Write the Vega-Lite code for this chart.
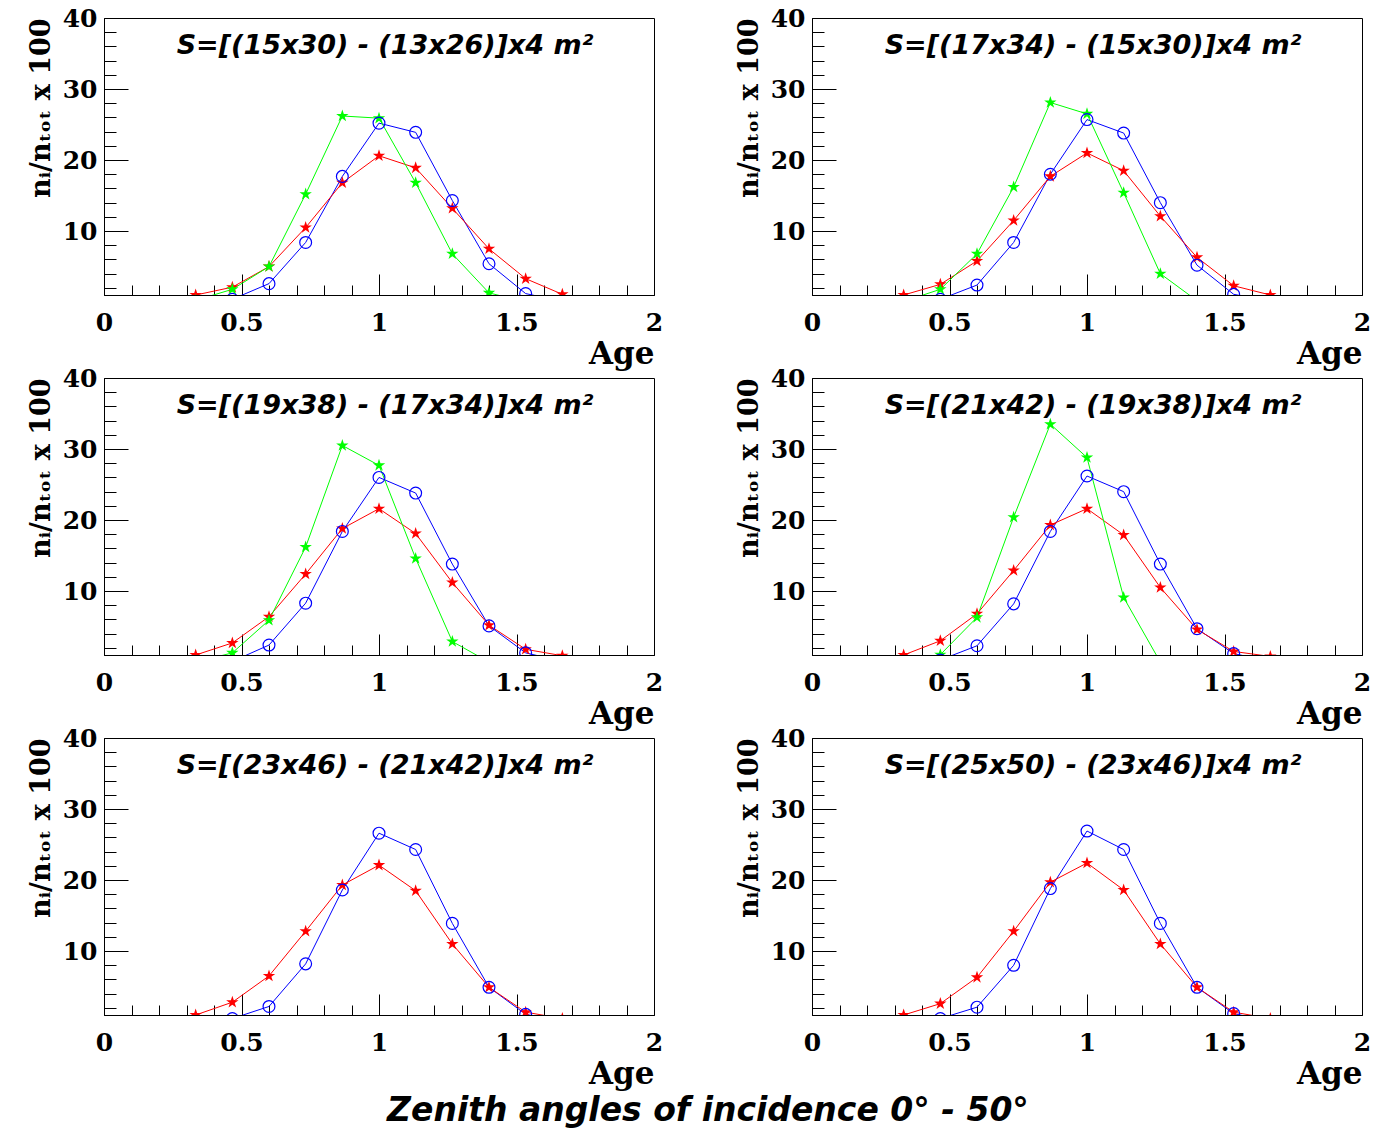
{
  "$schema": "https://vega.github.io/schema/vega-lite/v6.json",
  "autosize": {"type": "pad"},
  "padding": {"left": 26, "top": 5, "right": 5, "bottom": 5},
  "background": "white",
  "config": {"view": {"stroke": "black", "strokeWidth": 1}},
  "title": {"text": "Zenith angles of incidence 0° - 50°", "orient": "bottom", "anchor": "middle", "frame": "bounds", "dx": 9, "offset": 5, "font": "DejaVu Sans", "fontSize": 33, "fontWeight": "bold", "fontStyle": "italic", "color": "black"},
  "data": {"values": [
    {"r":1,"c":1,"t":"S=[(15x30) - (13x26)]x4 m²"},
    {"r":1,"c":2,"t":"S=[(17x34) - (15x30)]x4 m²"},
    {"r":2,"c":1,"t":"S=[(19x38) - (17x34)]x4 m²"},
    {"r":2,"c":2,"t":"S=[(21x42) - (19x38)]x4 m²"},
    {"r":3,"c":1,"t":"S=[(23x46) - (21x42)]x4 m²"},
    {"r":3,"c":2,"t":"S=[(25x50) - (23x46)]x4 m²"},

    {"r":1,"c":1,"s":"blue","x":0.4667,"y":0.4},
    {"r":1,"c":1,"s":"blue","x":0.6,"y":2.6},
    {"r":1,"c":1,"s":"blue","x":0.7333,"y":8.4},
    {"r":1,"c":1,"s":"blue","x":0.8667,"y":17.7},
    {"r":1,"c":1,"s":"blue","x":1.0,"y":25.2},
    {"r":1,"c":1,"s":"blue","x":1.1333,"y":23.9},
    {"r":1,"c":1,"s":"blue","x":1.2667,"y":14.3},
    {"r":1,"c":1,"s":"blue","x":1.4,"y":5.4},
    {"r":1,"c":1,"s":"blue","x":1.5333,"y":1.2},
    {"r":1,"c":1,"s":"blue","x":1.6667,"y":0.1},
    {"r":1,"c":1,"s":"red","x":0.3333,"y":1.0},
    {"r":1,"c":1,"s":"red","x":0.4667,"y":2.1},
    {"r":1,"c":1,"s":"red","x":0.6,"y":5.0},
    {"r":1,"c":1,"s":"red","x":0.7333,"y":10.5},
    {"r":1,"c":1,"s":"red","x":0.8667,"y":16.8},
    {"r":1,"c":1,"s":"red","x":1.0,"y":20.6},
    {"r":1,"c":1,"s":"red","x":1.1333,"y":18.9},
    {"r":1,"c":1,"s":"red","x":1.2667,"y":13.2},
    {"r":1,"c":1,"s":"red","x":1.4,"y":7.5},
    {"r":1,"c":1,"s":"red","x":1.5333,"y":3.3},
    {"r":1,"c":1,"s":"red","x":1.6667,"y":1.1},
    {"r":1,"c":1,"s":"green","x":0.3333,"y":0.25},
    {"r":1,"c":1,"s":"green","x":0.4667,"y":1.8},
    {"r":1,"c":1,"s":"green","x":0.6,"y":5.0},
    {"r":1,"c":1,"s":"green","x":0.7333,"y":15.2},
    {"r":1,"c":1,"s":"green","x":0.8667,"y":26.2},
    {"r":1,"c":1,"s":"green","x":1.0,"y":25.9},
    {"r":1,"c":1,"s":"green","x":1.1333,"y":16.8},
    {"r":1,"c":1,"s":"green","x":1.2667,"y":6.8},
    {"r":1,"c":1,"s":"green","x":1.4,"y":1.3},
    {"r":1,"c":1,"s":"green","x":1.5333,"y":0.0},

    {"r":1,"c":2,"s":"blue","x":0.4667,"y":0.4},
    {"r":1,"c":2,"s":"blue","x":0.6,"y":2.4},
    {"r":1,"c":2,"s":"blue","x":0.7333,"y":8.4},
    {"r":1,"c":2,"s":"blue","x":0.8667,"y":18.0},
    {"r":1,"c":2,"s":"blue","x":1.0,"y":25.7},
    {"r":1,"c":2,"s":"blue","x":1.1333,"y":23.8},
    {"r":1,"c":2,"s":"blue","x":1.2667,"y":14.0},
    {"r":1,"c":2,"s":"blue","x":1.4,"y":5.2},
    {"r":1,"c":2,"s":"blue","x":1.5333,"y":1.1},
    {"r":1,"c":2,"s":"blue","x":1.6667,"y":0.1},
    {"r":1,"c":2,"s":"red","x":0.3333,"y":1.0},
    {"r":1,"c":2,"s":"red","x":0.4667,"y":2.5},
    {"r":1,"c":2,"s":"red","x":0.6,"y":5.8},
    {"r":1,"c":2,"s":"red","x":0.7333,"y":11.5},
    {"r":1,"c":2,"s":"red","x":0.8667,"y":17.7},
    {"r":1,"c":2,"s":"red","x":1.0,"y":21.0},
    {"r":1,"c":2,"s":"red","x":1.1333,"y":18.5},
    {"r":1,"c":2,"s":"red","x":1.2667,"y":12.1},
    {"r":1,"c":2,"s":"red","x":1.4,"y":6.3},
    {"r":1,"c":2,"s":"red","x":1.5333,"y":2.3},
    {"r":1,"c":2,"s":"red","x":1.6667,"y":1.0},
    {"r":1,"c":2,"s":"green","x":0.3333,"y":0.1},
    {"r":1,"c":2,"s":"green","x":0.4667,"y":1.8},
    {"r":1,"c":2,"s":"green","x":0.6,"y":6.8},
    {"r":1,"c":2,"s":"green","x":0.7333,"y":16.2},
    {"r":1,"c":2,"s":"green","x":0.8667,"y":28.1},
    {"r":1,"c":2,"s":"green","x":1.0,"y":26.5},
    {"r":1,"c":2,"s":"green","x":1.1333,"y":15.4},
    {"r":1,"c":2,"s":"green","x":1.2667,"y":4.0},
    {"r":1,"c":2,"s":"green","x":1.4,"y":0.2},

    {"r":2,"c":1,"s":"blue","x":0.4667,"y":0.1},
    {"r":2,"c":1,"s":"blue","x":0.6,"y":2.4},
    {"r":2,"c":1,"s":"blue","x":0.7333,"y":8.3},
    {"r":2,"c":1,"s":"blue","x":0.8667,"y":18.4},
    {"r":2,"c":1,"s":"blue","x":1.0,"y":26.0},
    {"r":2,"c":1,"s":"blue","x":1.1333,"y":23.8},
    {"r":2,"c":1,"s":"blue","x":1.2667,"y":13.8},
    {"r":2,"c":1,"s":"blue","x":1.4,"y":5.1},
    {"r":2,"c":1,"s":"blue","x":1.5333,"y":1.3},
    {"r":2,"c":1,"s":"blue","x":1.6667,"y":0.1},
    {"r":2,"c":1,"s":"red","x":0.3333,"y":1.0},
    {"r":2,"c":1,"s":"red","x":0.4667,"y":2.7},
    {"r":2,"c":1,"s":"red","x":0.6,"y":6.4},
    {"r":2,"c":1,"s":"red","x":0.7333,"y":12.4},
    {"r":2,"c":1,"s":"red","x":0.8667,"y":18.8},
    {"r":2,"c":1,"s":"red","x":1.0,"y":21.6},
    {"r":2,"c":1,"s":"red","x":1.1333,"y":18.1},
    {"r":2,"c":1,"s":"red","x":1.2667,"y":11.2},
    {"r":2,"c":1,"s":"red","x":1.4,"y":5.2},
    {"r":2,"c":1,"s":"red","x":1.5333,"y":1.8},
    {"r":2,"c":1,"s":"red","x":1.6667,"y":0.9},
    {"r":2,"c":1,"s":"green","x":0.3333,"y":0.0},
    {"r":2,"c":1,"s":"green","x":0.4667,"y":1.3},
    {"r":2,"c":1,"s":"green","x":0.6,"y":5.9},
    {"r":2,"c":1,"s":"green","x":0.7333,"y":16.2},
    {"r":2,"c":1,"s":"green","x":0.8667,"y":30.5},
    {"r":2,"c":1,"s":"green","x":1.0,"y":27.7},
    {"r":2,"c":1,"s":"green","x":1.1333,"y":14.6},
    {"r":2,"c":1,"s":"green","x":1.2667,"y":2.9},
    {"r":2,"c":1,"s":"green","x":1.4,"y":0.0},

    {"r":2,"c":2,"s":"blue","x":0.4667,"y":0.3},
    {"r":2,"c":2,"s":"blue","x":0.6,"y":2.3},
    {"r":2,"c":2,"s":"blue","x":0.7333,"y":8.2},
    {"r":2,"c":2,"s":"blue","x":0.8667,"y":18.4},
    {"r":2,"c":2,"s":"blue","x":1.0,"y":26.2},
    {"r":2,"c":2,"s":"blue","x":1.1333,"y":24.0},
    {"r":2,"c":2,"s":"blue","x":1.2667,"y":13.8},
    {"r":2,"c":2,"s":"blue","x":1.4,"y":4.7},
    {"r":2,"c":2,"s":"blue","x":1.5333,"y":1.2},
    {"r":2,"c":2,"s":"blue","x":1.6667,"y":0.1},
    {"r":2,"c":2,"s":"red","x":0.3333,"y":1.0},
    {"r":2,"c":2,"s":"red","x":0.4667,"y":3.0},
    {"r":2,"c":2,"s":"red","x":0.6,"y":6.8},
    {"r":2,"c":2,"s":"red","x":0.7333,"y":12.9},
    {"r":2,"c":2,"s":"red","x":0.8667,"y":19.3},
    {"r":2,"c":2,"s":"red","x":1.0,"y":21.6},
    {"r":2,"c":2,"s":"red","x":1.1333,"y":17.9},
    {"r":2,"c":2,"s":"red","x":1.2667,"y":10.5},
    {"r":2,"c":2,"s":"red","x":1.4,"y":4.6},
    {"r":2,"c":2,"s":"red","x":1.5333,"y":1.5},
    {"r":2,"c":2,"s":"red","x":1.6667,"y":0.8},
    {"r":2,"c":2,"s":"green","x":0.3333,"y":0.0},
    {"r":2,"c":2,"s":"green","x":0.4667,"y":1.05},
    {"r":2,"c":2,"s":"green","x":0.6,"y":6.3},
    {"r":2,"c":2,"s":"green","x":0.7333,"y":20.4},
    {"r":2,"c":2,"s":"green","x":0.8667,"y":33.5},
    {"r":2,"c":2,"s":"green","x":1.0,"y":28.8},
    {"r":2,"c":2,"s":"green","x":1.1333,"y":9.1},
    {"r":2,"c":2,"s":"green","x":1.2667,"y":0.0},

    {"r":3,"c":1,"s":"blue","x":0.4667,"y":0.5},
    {"r":3,"c":1,"s":"blue","x":0.6,"y":2.2},
    {"r":3,"c":1,"s":"blue","x":0.7333,"y":8.2},
    {"r":3,"c":1,"s":"blue","x":0.8667,"y":18.6},
    {"r":3,"c":1,"s":"blue","x":1.0,"y":26.6},
    {"r":3,"c":1,"s":"blue","x":1.1333,"y":24.3},
    {"r":3,"c":1,"s":"blue","x":1.2667,"y":13.9},
    {"r":3,"c":1,"s":"blue","x":1.4,"y":4.9},
    {"r":3,"c":1,"s":"blue","x":1.5333,"y":1.1},
    {"r":3,"c":1,"s":"blue","x":1.6667,"y":0.1},
    {"r":3,"c":1,"s":"red","x":0.3333,"y":1.0},
    {"r":3,"c":1,"s":"red","x":0.4667,"y":2.8},
    {"r":3,"c":1,"s":"red","x":0.6,"y":6.5},
    {"r":3,"c":1,"s":"red","x":0.7333,"y":12.8},
    {"r":3,"c":1,"s":"red","x":0.8667,"y":19.3},
    {"r":3,"c":1,"s":"red","x":1.0,"y":22.1},
    {"r":3,"c":1,"s":"red","x":1.1333,"y":18.5},
    {"r":3,"c":1,"s":"red","x":1.2667,"y":11.0},
    {"r":3,"c":1,"s":"red","x":1.4,"y":4.9},
    {"r":3,"c":1,"s":"red","x":1.5333,"y":1.4},
    {"r":3,"c":1,"s":"red","x":1.6667,"y":0.5},

    {"r":3,"c":2,"s":"blue","x":0.4667,"y":0.5},
    {"r":3,"c":2,"s":"blue","x":0.6,"y":2.1},
    {"r":3,"c":2,"s":"blue","x":0.7333,"y":8.0},
    {"r":3,"c":2,"s":"blue","x":0.8667,"y":18.8},
    {"r":3,"c":2,"s":"blue","x":1.0,"y":26.9},
    {"r":3,"c":2,"s":"blue","x":1.1333,"y":24.3},
    {"r":3,"c":2,"s":"blue","x":1.2667,"y":13.9},
    {"r":3,"c":2,"s":"blue","x":1.4,"y":4.9},
    {"r":3,"c":2,"s":"blue","x":1.5333,"y":1.2},
    {"r":3,"c":2,"s":"blue","x":1.6667,"y":0.1},
    {"r":3,"c":2,"s":"red","x":0.3333,"y":1.0},
    {"r":3,"c":2,"s":"red","x":0.4667,"y":2.6},
    {"r":3,"c":2,"s":"red","x":0.6,"y":6.3},
    {"r":3,"c":2,"s":"red","x":0.7333,"y":12.8},
    {"r":3,"c":2,"s":"red","x":0.8667,"y":19.7},
    {"r":3,"c":2,"s":"red","x":1.0,"y":22.4},
    {"r":3,"c":2,"s":"red","x":1.1333,"y":18.6},
    {"r":3,"c":2,"s":"red","x":1.2667,"y":11.0},
    {"r":3,"c":2,"s":"red","x":1.4,"y":4.9},
    {"r":3,"c":2,"s":"red","x":1.5333,"y":1.4},
    {"r":3,"c":2,"s":"red","x":1.6667,"y":0.5}
  ]},
  "facet": {
    "row": {"field": "r", "type": "ordinal", "header": null},
    "column": {"field": "c", "type": "ordinal", "header": null}
  },
  "spacing": {"row": 83, "column": 158},
  "bounds": "flush",
  "resolve": {"axis": {"x": "independent", "y": "independent"}},
  "spec": {
    "width": 550,
    "height": 277,
    "resolve": {"axis": {"x": "independent", "y": "independent"}},
    "layer": [
      {
        "transform": [{"filter": "isValid(datum.s)"}],
        "mark": {"type": "line", "clip": true, "strokeWidth": 1},
        "encoding": {
          "x": {"field": "x", "type": "quantitative",
            "scale": {"domain": [0, 2], "nice": false, "zero": false},
            "axis": {"orient": "bottom", "values": [0, 0.5, 1, 1.5, 2], "format": "~g", "grid": false,
              "tickSize": -21, "tickColor": "black", "tickWidth": 1, "domainColor": "black", "domainWidth": 1,
              "labelFont": "DejaVu Serif", "labelFontWeight": "bold", "labelFontSize": 25, "labelColor": "black",
              "labelPadding": 36, "labelFlush": false, "labelOverlap": false, "labelBaseline": "top",
              "title": "Age", "titleFont": "DejaVu Serif", "titleFontWeight": "bold", "titleFontSize": 31, "titleColor": "black",
              "titleAnchor": "end", "titlePadding": 4}},
          "y": {"field": "y", "type": "quantitative",
            "scale": {"domain": [1, 40], "nice": false, "zero": false},
            "axis": {"orient": "left", "values": [10, 20, 30, 40], "grid": false,
              "tickSize": -24, "tickColor": "black", "tickWidth": 1, "domainColor": "black", "domainWidth": 1,
              "labelFont": "DejaVu Serif", "labelFontWeight": "bold", "labelFontSize": 25, "labelColor": "black",
              "labelPadding": 31, "labelOverlap": false, "labelFlush": false,
              "title": "nᵢ/nₜₒₜ x 100", "titleFont": "DejaVu Serif", "titleFontWeight": "bold", "titleFontSize": 27, "titleColor": "black",
              "titleAnchor": "end", "titlePadding": 7}},
          "color": {"field": "s", "type": "nominal", "scale": {"domain": ["red", "green", "blue"], "range": ["#ff0000", "#00ff00", "#0000ff"]}, "legend": null}
        }
      },
      {
        "transform": [{"filter": "datum.s === 'red' || datum.s === 'green'"}],
        "mark": {"type": "point", "clip": true, "filled": true, "opacity": 1, "size": 170, "strokeWidth": 0,
          "shape": "M0,-1L0.225,-0.309L0.951,-0.309L0.363,0.118L0.588,0.809L0,0.382L-0.588,0.809L-0.363,0.118L-0.951,-0.309L-0.225,-0.309Z"},
        "encoding": {
          "x": {"field": "x", "type": "quantitative",
            "axis": {"orient": "bottom", "values": [0.1, 0.2, 0.3, 0.4, 0.6, 0.7, 0.8, 0.9, 1.1, 1.2, 1.3, 1.4, 1.6, 1.7, 1.8, 1.9],
              "labels": false, "domain": false, "grid": false, "tickSize": -10, "tickColor": "black", "tickWidth": 1, "title": null}},
          "y": {"field": "y", "type": "quantitative",
            "axis": {"orient": "left", "values": [2, 4, 6, 8, 12, 14, 16, 18, 22, 24, 26, 28, 32, 34, 36, 38],
              "labels": false, "domain": false, "grid": false, "tickSize": -12, "tickColor": "black", "tickWidth": 1, "title": null}},
          "color": {"field": "s", "type": "nominal", "legend": null}
        }
      },
      {
        "transform": [{"filter": "datum.s === 'blue'"}],
        "mark": {"type": "point", "clip": true, "filled": false, "opacity": 1, "shape": "circle", "size": 140, "strokeWidth": 1.2},
        "encoding": {
          "x": {"field": "x", "type": "quantitative", "axis": null},
          "y": {"field": "y", "type": "quantitative", "axis": null},
          "color": {"field": "s", "type": "nominal", "legend": null}
        }
      },
      {
        "transform": [{"filter": "isValid(datum.t)"}],
        "mark": {"type": "text", "font": "DejaVu Sans", "fontSize": 27, "fontWeight": "bold", "fontStyle": "italic", "align": "center", "baseline": "alphabetic", "color": "black"},
        "encoding": {
          "x": {"datum": 1.022, "type": "quantitative", "axis": null},
          "y": {"datum": 35.0, "type": "quantitative", "axis": null},
          "text": {"field": "t", "type": "nominal"}
        }
      }
    ]
  }
}
